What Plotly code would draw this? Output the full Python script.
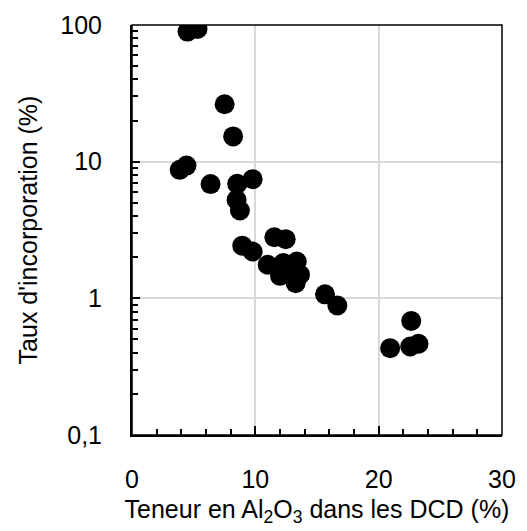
import plotly.graph_objects as go

# Data
al2o3 = [4.50, 5.31, 7.51, 8.20, 3.87, 4.42, 6.37, 8.53, 9.78, 8.48, 8.75, 8.94, 9.78,
         11.54, 12.46, 11.00, 12.27, 13.36, 12.00, 13.62, 13.27, 12.67, 15.65, 16.65,
         22.64, 20.93, 22.56, 23.23]
taux = [89.5, 93.6, 26.3, 15.3, 8.71, 9.36, 6.85, 6.88, 7.45, 5.25, 4.39, 2.43, 2.20,
        2.80, 2.71, 1.76, 1.81, 1.86, 1.46, 1.49, 1.29, 1.57, 1.07, 0.886,
        0.684, 0.432, 0.444, 0.465]

x_ticks = [0, 10, 20, 30]
y_ticks = [0.1, 1, 10, 100]
y_ticktext = ["0,1", "1", "10", "100"]

FONT = "Liberation Sans, Arial, sans-serif"
FS = 25

fig = go.Figure()
fig.add_trace(go.Scatter(
    x=al2o3, y=taux, mode="markers",
    marker=dict(size=20, color="black", line=dict(width=0)),
    showlegend=False,
))

fig.update_layout(
    width=519, height=523,
    margin=dict(l=124, r=25, t=17, b=96),
    plot_bgcolor="white", paper_bgcolor="white",
    font=dict(family=FONT, size=FS, color="black"),
    xaxis=dict(
        range=[0, 30], tickvals=x_ticks, ticks="inside", ticklen=9, tickwidth=1.5,
        tickcolor="black", showline=True, linecolor="black", linewidth=2,
        showgrid=True, gridcolor="#d9d9d9", gridwidth=1.5, zeroline=False,
        ticklabelstandoff=21, automargin=False,
        minor=dict(dtick=2, ticks="inside", ticklen=6, tickwidth=1.5, tickcolor="black", showgrid=False),
        title=dict(text="Teneur en Al<sub>2</sub>O<sub>3</sub> dans les DCD (%)", standoff=8,
                   font=dict(size=FS)),
    ),
    yaxis=dict(
        type="log", range=[-1, 2], tickvals=y_ticks, ticktext=y_ticktext,
        ticks="inside", ticklen=8, tickwidth=1.5, tickcolor="black",
        showline=True, linecolor="black", linewidth=2,
        showgrid=True, gridcolor="#d9d9d9", gridwidth=1.5, zeroline=False,
        ticklabelstandoff=23, automargin=False,
        minor=dict(dtick="D1", ticks="inside", ticklen=6, tickwidth=1.5, tickcolor="black", showgrid=False),
        title=dict(text="Taux d'incorporation (%)", standoff=16, font=dict(size=FS)),
    ),
    shapes=[dict(type="rect", xref="paper", yref="paper", x0=0, y0=0, x1=1, y1=1,
                 line=dict(color="black", width=1.5), layer="above")],
)

fig.write_html("out.html")
